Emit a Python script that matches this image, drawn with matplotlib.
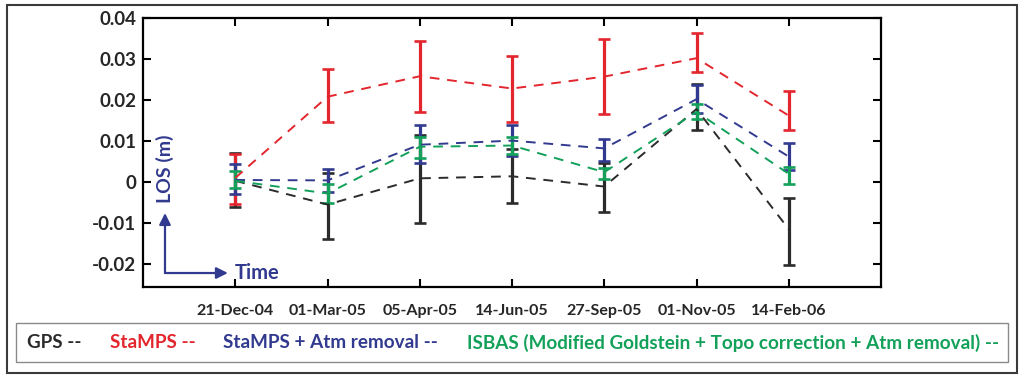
import matplotlib
matplotlib.use("Agg")
import matplotlib.pyplot as plt
from matplotlib.patches import Rectangle

dates = ['21-Dec-04', '01-Mar-05', '05-Apr-05', '14-Jun-05',
         '27-Sep-05', '01-Nov-05', '14-Feb-06']

gps = [0.0003, -0.0055, 0.0009, 0.0014, -0.0011, 0.0178, -0.0115]
gps_lo = [-0.0062, -0.0139, -0.0099, -0.0050, -0.0072, 0.0128, -0.0202]
gps_hi = [0.0072, 0.0022, 0.0115, 0.0080, 0.0046, 0.0239, -0.0038]

stamps = [0.0010, 0.0208, 0.0258, 0.0228, 0.0257, 0.0302, 0.0162]
stamps_lo = [-0.0054, 0.0146, 0.0171, 0.0147, 0.0166, 0.0269, 0.0127]
stamps_hi = [0.0068, 0.0276, 0.0345, 0.0308, 0.0348, 0.0364, 0.0221]

atm = [0.0005, 0.0004, 0.0091, 0.0101, 0.0082, 0.0202, 0.0062]
atm_lo = [-0.0029, -0.0024, 0.0046, 0.0064, 0.0052, 0.0168, 0.0029]
atm_hi = [0.0044, 0.0032, 0.0139, 0.0139, 0.0104, 0.0237, 0.0096]

isbas = [0.0003, -0.0028, 0.0086, 0.0089, 0.0024, 0.0171, 0.0020]
isbas_lo = [-0.0015, -0.0050, 0.0058, 0.0068, 0.0007, 0.0153, -0.0006]
isbas_hi = [0.0028, -0.0006, 0.0110, 0.0110, 0.0035, 0.0190, 0.0036]

labels = ['GPS --', 'StaMPS --', 'StaMPS + Atm removal --',
          'ISBAS (Modified Goldstein + Topo correction + Atm removal) --']

BLACK = '#2b2b2b'
RED = '#e3262d'
BLUE = '#323a8f'
GREEN = '#13a15a'
TEXT = '#262626'

plt.rcParams['font.family'] = ['Lato', 'DejaVu Sans']

fig = plt.figure(figsize=(10.24, 3.84), dpi=100)
ax = fig.add_axes([143 / 1024, 1 - 287 / 384, 738 / 1024, 269 / 384])

x = list(range(len(dates)))
series = [(gps, gps_lo, gps_hi, BLACK),
          (stamps, stamps_lo, stamps_hi, RED),
          (atm, atm_lo, atm_hi, BLUE),
          (isbas, isbas_lo, isbas_hi, GREEN)]
for y, lo, hi, c in series:
    yerr = [[v - l for v, l in zip(y, lo)], [h - v for v, h in zip(y, hi)]]
    ax.errorbar(x, y, yerr=yerr, color=c, ecolor=c, elinewidth=2.3,
                capsize=4.5, capthick=1.9, linewidth=1.4,
                linestyle=(0, (5, 4)))

ax.set_xlim(-1, 7)
ax.set_ylim(-0.0256, 0.04)
ax.set_xticks(x)
ax.set_xticklabels(dates)
ax.set_yticks([-0.02, -0.01, 0, 0.01, 0.02, 0.03, 0.04])
ax.set_yticklabels(['-0.02', '-0.01', '0', '0.01', '0.02', '0.03', '0.04'])
ax.tick_params(axis='both', direction='in', length=6, width=1.5,
               top=True, right=True, colors='black')
ax.tick_params(axis='y', labelsize=13.5, pad=5, labelcolor=TEXT)
ax.tick_params(axis='x', labelsize=11.5, pad=12, labelcolor=TEXT)
for lab in ax.get_xticklabels() + ax.get_yticklabels():
    lab.set_fontweight('bold')
for spine in ax.spines.values():
    spine.set_linewidth(1.6)

# axis hint arrows in the lower left corner
ax.annotate('', xy=(0.0298, 0.275), xytext=(0.0298, 0.052),
            xycoords='axes fraction',
            arrowprops=dict(arrowstyle='-|>', color=BLUE, lw=1.6,
                            mutation_scale=17, shrinkA=0, shrinkB=0))
ax.annotate('', xy=(0.115, 0.052), xytext=(0.0298, 0.052),
            xycoords='axes fraction',
            arrowprops=dict(arrowstyle='-|>', color=BLUE, lw=1.6,
                            mutation_scale=17, shrinkA=0, shrinkB=0))
ax.text(0.124, 0.052, 'Time', transform=ax.transAxes, color=BLUE,
        fontsize=14.5, fontweight='bold', va='center', ha='left')
ax.text(0.030, 0.44, 'LOS (m)', transform=ax.transAxes, color=BLUE,
        fontsize=14, fontweight='bold', va='center', ha='center',
        rotation=90)

# outer frame and legend box
fig.patches.append(Rectangle((7 / 1024, 11 / 384), 1010 / 1024, 368 / 384,
                             transform=fig.transFigure, fill=False,
                             edgecolor='#3a3a3a', lw=1.5))
fig.patches.append(Rectangle((16 / 1024, 22 / 384), 992 / 1024, 39 / 384,
                             transform=fig.transFigure, fill=False,
                             edgecolor='#8a8a8a', lw=1.0))

leg_x = [27, 110, 223, 467]
for lx, txt, c in zip(leg_x, labels, [BLACK, RED, BLUE, GREEN]):
    fig.text(lx / 1024, 1 - 343 / 384, txt, color=c, fontsize=13.6,
             fontweight='bold', va='center', ha='left')

fig.savefig('out.png', dpi=100, facecolor='white')
